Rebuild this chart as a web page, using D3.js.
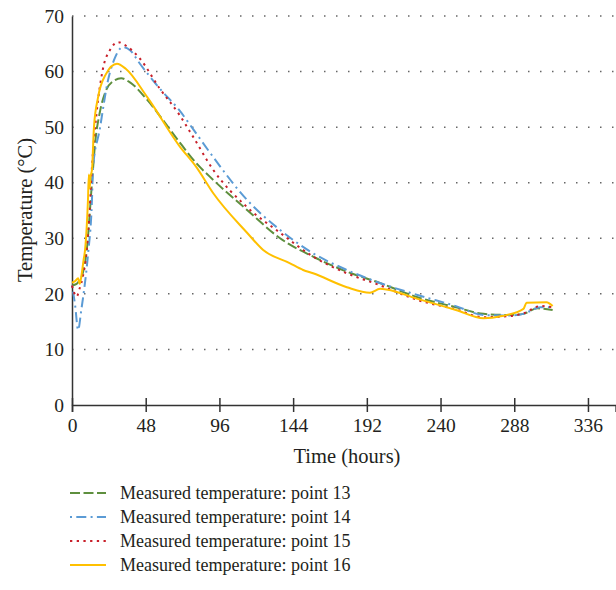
<!DOCTYPE html>
<html>
<head>
<meta charset="utf-8">
<script src="https://cdn.jsdelivr.net/npm/d3@7"></script>
<style>
  body { margin: 0; background: #fff; }
  text { font-family: "Liberation Serif", "Times New Roman", serif; fill: #231f20; }
</style>
</head>
<body>
<script>
// values (hours, °C)
var hours13 = [0, 3, 5, 7, 9.6, 13, 15, 18, 22, 27, 32, 38, 49, 60, 70, 81, 92, 114, 135.5, 157, 179, 200, 225, 250, 268, 285, 294, 303, 313];
var temp13  = [21.5, 21.8, 22.5, 23.7, 27.9, 40, 47, 52.5, 56.5, 58.3, 58.8, 58, 54.9, 51, 47.3, 43.5, 40.5, 35.1, 30, 26.7, 24, 22, 19.4, 17.6, 16.4, 16.2, 16.4, 17.4, 17.1];

var hours14 = [0, 2, 4, 6, 8, 10.5, 13, 13.7, 18, 23.5, 28, 33, 38, 44, 57, 70, 79, 92, 114, 135.5, 157, 179, 200, 225, 250, 268, 285, 294, 305, 313];
var temp14  = [21.5, 18, 13.5, 17, 21, 27.3, 36.9, 42.8, 49.5, 58.5, 62.5, 64.4, 63.8, 61.5, 57, 53, 49.6, 44.6, 36.9, 31.5, 27.3, 24.3, 22, 19.8, 17.8, 16.2, 16.1, 16.4, 17.6, 17.6];

var hours15 = [0, 3, 5, 7, 9.6, 11.5, 13, 16, 20, 25, 30, 36, 44, 57, 70, 79, 92, 114, 135.5, 157, 179, 200, 225, 250, 268, 285, 294, 305, 313];
var temp15  = [21.5, 19.5, 21, 23, 27.9, 35.1, 42.8, 52.5, 60.3, 64, 65.3, 64.5, 62.4, 57, 52.2, 48.2, 42.3, 35.6, 31, 26.7, 23.7, 21.6, 18.9, 17.2, 15.8, 16, 16.5, 17.8, 17.6];

var hours16 = [0, 2, 4, 5, 6, 7.5, 8.5, 10.4, 11, 11.5, 12, 13, 14.3, 17, 22, 29.3, 35, 49, 70, 81, 92, 114, 124.5, 142, 150.5, 157, 179, 194, 200.6, 225, 250, 268, 280, 294, 296, 309, 313];
var temp16  = [22, 22.3, 22.8, 21.8, 23, 26, 27.9, 36.9, 41.5, 39, 41, 42.3, 50, 55.4, 59.5, 61.4, 60.5, 55.4, 46.6, 42.8, 38.1, 31, 27.9, 25.5, 24.3, 23.7, 21.2, 20.2, 20.9, 19.1, 17.1, 15.6, 16, 17.3, 18.4, 18.5, 17.8];

var seriesNames = ["Measured temperature: point 13", "Measured temperature: point 14",
                   "Measured temperature: point 15", "Measured temperature: point 16"];
var xTicks = [0, 48, 96, 144, 192, 240, 288, 336];
var yTicks = [0, 10, 20, 30, 40, 50, 60, 70];

var colors = ["#5e8f3e", "#5b9bd5", "#c8202a", "#ffc000"];
var dashes = ["10,3.5", "2,4.3,10,4.3", "2.3,4.4", null];

var width = 616, height = 590;
var svg = d3.select("body").append("svg").attr("width", width).attr("height", height);

var x = d3.scaleLinear().domain([0, 354]).range([72, 615.6]);
var y = d3.scaleLinear().domain([0, 70]).range([405, 16]);

// dotted gridlines
svg.append("g").selectAll("line").data(yTicks.slice(1)).enter().append("line")
  .attr("x1", 72).attr("x2", 616)
  .attr("y1", function(d){ return y(d); }).attr("y2", function(d){ return y(d); })
  .attr("stroke", "#666").attr("stroke-width", 1.5)
  .attr("stroke-dasharray", "1.5,10.5");

// y axis
var gy = svg.append("g").attr("transform", "translate(72,0)")
  .call(d3.axisLeft(y).tickValues(yTicks).tickSize(0).tickPadding(8));
gy.select(".domain").attr("stroke", "#333").attr("stroke-width", 1.5);
gy.selectAll("text").attr("font-size", 19.5).style("font-family", "Liberation Serif");

// x axis
var gx = svg.append("g").attr("transform", "translate(0,405)")
  .call(d3.axisBottom(x).tickValues(xTicks).tickSize(7).tickPadding(6).tickFormat(d3.format("d")));
gx.select(".domain").attr("stroke", "#333").attr("stroke-width", 1.5);
gx.selectAll(".tick line").attr("y1", -7).attr("stroke", "#333").attr("stroke-width", 1.5);
gx.selectAll("text").attr("font-size", 19.5).style("font-family", "Liberation Serif");

svg.append("text").attr("x", 347).attr("y", 463).attr("text-anchor", "middle")
  .attr("font-size", 20.5).text("Time (hours)");
svg.append("text").attr("transform", "translate(32,210) rotate(-90)").attr("text-anchor", "middle")
  .attr("font-size", 20.5).text("Temperature (°C)");

var series = [
  d3.zip(hours13, temp13), d3.zip(hours14, temp14),
  d3.zip(hours15, temp15), d3.zip(hours16, temp16)
];

var line = d3.line()
  .x(function(d){ return x(d[0]); })
  .y(function(d){ return y(d[1]); })
  .curve(d3.curveMonotoneX);

svg.append("g").selectAll("path").data(series).enter().append("path")
  .attr("d", line)
  .attr("fill", "none")
  .attr("stroke", function(d, i){ return colors[i]; })
  .attr("stroke-width", 2)
  .attr("stroke-dasharray", function(d, i){ return dashes[i]; });

// legend
var lg = svg.append("g").selectAll("g").data(seriesNames).enter().append("g")
  .attr("transform", function(d, i){ return "translate(70," + (493 + i * 24) + ")"; });
lg.append("line").attr("x1", 0).attr("x2", 36)
  .attr("stroke", function(d, i){ return colors[i]; })
  .attr("stroke-width", 2)
  .attr("stroke-dasharray", function(d, i){ return dashes[i]; });
lg.append("text").attr("x", 50).attr("dy", "0.33em").attr("font-size", 18)
  .text(function(d){ return d; });
</script>
</body>
</html>
